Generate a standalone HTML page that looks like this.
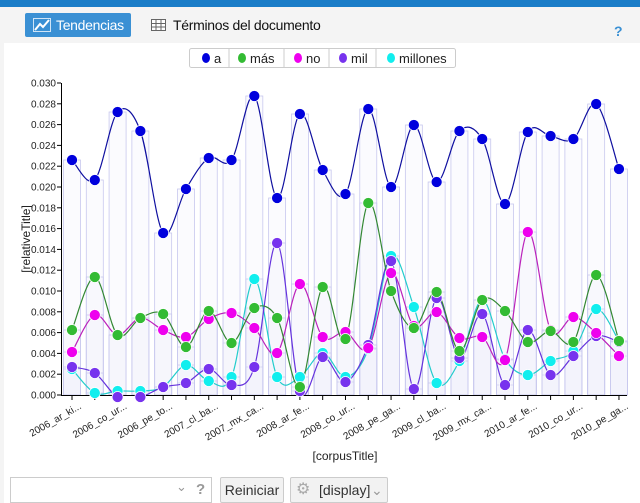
<!DOCTYPE html>
<html><head><meta charset="utf-8"><style>
body{margin:0;width:640px;height:503px;overflow:hidden;background:#f4f4f4;font-family:"Liberation Sans",sans-serif;}
#top{position:absolute;left:0;top:0;width:640px;height:7px;background:#1a7dc8}
#bar{position:absolute;left:0;top:7px;width:640px;height:36px;background:#f4f4f4}
.btn1{position:absolute;left:25px;top:6px;width:106px;height:24px;background:#3a90d4;border-radius:2px;color:#fff;font-size:14px;line-height:24px}
.btn2{position:absolute;left:151px;top:6px;height:24px;font-size:14px;line-height:24px;color:#111}
#panel{position:absolute;left:4px;top:43px;width:636px;height:460px;background:#fff}
.q{position:absolute;left:614px;top:16px;color:#3a90d4;font-weight:bold;font-size:14px}
</style></head><body>
<div id="top"></div>
<div id="bar">
<div class="btn1"><svg width="18" height="14" style="position:absolute;left:8px;top:5px"><rect x="0.5" y="0.5" width="17" height="13" fill="none" stroke="#cfe4f6"/><polyline points="2,12 7,6 10,9 16,2" fill="none" stroke="#fff" stroke-width="2"/></svg><span style="position:absolute;left:31px;letter-spacing:-0.3px">Tendencias</span></div>
<div class="btn2"><svg width="15" height="12" style="position:absolute;left:0;top:6px"><rect x="0.5" y="0.5" width="14" height="11" fill="#fff" stroke="#666"/><path d="M0 4.5H15M0 8H15M5 0V12M10 0V12" stroke="#666"/></svg><span style="position:absolute;left:22px;white-space:nowrap;letter-spacing:-0.3px">Términos del documento</span></div>
<div class="q">?</div>
</div>
<div id="panel"></div>
<svg id="s" width="640" height="503" style="position:absolute;left:0;top:0" font-family="Liberation Sans, sans-serif"></svg>
<div style="position:absolute;left:10px;top:477px;width:200px;height:24px;border:1px solid #ccc;background:#fff"><span style="position:absolute;left:165px;top:1px;color:#999;font-size:13px">⌄</span></div>
<span style="position:absolute;left:196px;top:481px;color:#999;font-weight:bold;font-size:15px">?</span>
<div style="position:absolute;left:220px;top:477px;width:62px;height:24px;border:1px solid #ccc;border-radius:2px;background:#f2f2f2;font-size:14px;line-height:24px;text-align:center;color:#333">Reiniciar</div>
<div style="position:absolute;left:290px;top:477px;width:96px;height:24px;border:1px solid #ccc;border-radius:2px;background:#f2f2f2;font-size:14px;line-height:24px;color:#333"><span style="position:absolute;left:5px;color:#aaa;font-size:16px">⚙</span><span style="position:absolute;left:28px">[display]</span><span style="position:absolute;left:80px;color:#999">⌄</span></div>
<script>
var s=document.getElementById('s'),h='';
var X=[];for(var i=0;i<25;i++)X.push(72+i*22.79);
var D=[
['#0000dd','#1010a0',[160,180,112,131,233,189,158,160,96,198,114,170,194,109,187,125,182,131,139,204,132,136,139,104,169]],
['#33bb33','#338833',[330,277,335,318,314,347,311,343,308,318,387,287,339,203,291,328,292,351,300,311,342,331,342,275,341]],
['#ee00ee','#bb22bb',[352,315,335,318,330,337,319,313,328,353,284,337,332,348,273,326,312,338,337,360,232,330,317,333,356]],
['#7733ee','#6633dd',[367,373,397,397,387,383,369,385,367,243,391,357,382,345,261,389,298,358,314,385,330,375,356,336,342]],
['#11eeee','#22cccc',[369,393,391,391,387,365,381,377,279,377,377,353,377,349,256,307,383,361,300,359,375,361,351,309,341]]];
for(var i=0;i<25;i++){D.forEach(function(d){var y=d[2][i];h+='<rect x="'+(X[i]-8.5)+'" y="'+y+'" width="17" height="'+(395-y)+'" fill="#eef0fa" fill-opacity="0.25" stroke="#c8c8ee" stroke-width="0.8"/>';});}
h+='<line x1="61.5" y1="83" x2="61.5" y2="395" stroke="#000"/><line x1="61" y1="395.5" x2="627" y2="395.5" stroke="#000"/>';
for(var k=0;k<=15;k++){var y=395-k*20.8,v=(k*0.002).toFixed(3);h+='<line x1="57" x2="61" y1="'+y+'" y2="'+y+'" stroke="#000"/><text x="56" y="'+(y+3.5)+'" font-size="10" text-anchor="end" fill="#222">'+v+'</text>';}
var L=['2006_ar_ki...','2006_co_ur...','2006_pe_to...','2007_cl_ba...','2007_mx_ca...','2008_ar_fe...','2008_co_ur...','2008_pe_ga...','2009_cl_ba...','2009_mx_ca...','2010_ar_fe...','2010_co_ur...','2010_pe_ga...'];
for(var i=0;i<25;i++){h+='<line x1="'+X[i]+'" x2="'+X[i]+'" y1="395" y2="400" stroke="#000"/>';}
for(var j=0;j<13;j++){var x=X[j*2]+10;h+='<text transform="translate('+x+',408) rotate(-30)" font-size="10" text-anchor="end" fill="#222">'+L[j]+'</text>';}
h+='<text x="345" y="460" font-size="12" text-anchor="middle" fill="#222">[corpusTitle]</text>';
h+='<text transform="translate(30,239) rotate(-90)" font-size="12" text-anchor="middle" fill="#222">[relativeTitle]</text>';
function path(p){var d='M'+X[0]+' '+p[0];for(var i=0;i<p.length-1;i++){var p0=i?p[i-1]:p[i],p3=i+2<p.length?p[i+2]:p[i+1];var x0=i?X[i-1]:X[i],x3=i+2<p.length?X[i+2]:X[i+1];
var c1x=X[i]+(X[i+1]-x0)/6,c1y=p[i]+(p[i+1]-p0)/6,c2x=X[i+1]-(x3-X[i])/6,c2y=p[i+1]-(p3-p[i])/6;d+=' C'+c1x+' '+c1y+' '+c2x+' '+c2y+' '+X[i+1]+' '+p[i+1];}return d;}
h+='<clipPath id="c"><rect x="61" y="60" width="570" height="335"/></clipPath>';
D.slice().reverse().forEach(function(d){h+='<path d="'+path(d[2])+'" fill="none" stroke="'+d[1]+'" stroke-width="1.2" clip-path="url(#c)"/>';});
D.slice().reverse().forEach(function(d){d[2].forEach(function(y,i){h+='<circle cx="'+X[i]+'" cy="'+y+'" r="5.5" fill="'+d[0]+'" stroke="#fff" stroke-width="0.7"/>';});});
h+='<rect x="189.5" y="48.5" width="266" height="19" rx="2" fill="#fff" stroke="#ccc"/>';
var lg=[['a',206,'#0000dd'],['más',242,'#33bb33'],['no',298,'#ee00ee'],['mil',343,'#7733ee'],['millones',391,'#11eeee']];
lg.forEach(function(l,i){h+='<ellipse cx="'+l[1]+'" cy="58" rx="4" ry="5" fill="'+l[2]+'"/><text x="'+(l[1]+8)+'" y="63" font-size="13" fill="#222">'+l[0]+'</text>';});
[229,284,329,376].forEach(function(x){h+='<line x1="'+x+'" x2="'+x+'" y1="49" y2="67" stroke="#ccc"/>';});
s.innerHTML=h;
</script>
</body></html>
